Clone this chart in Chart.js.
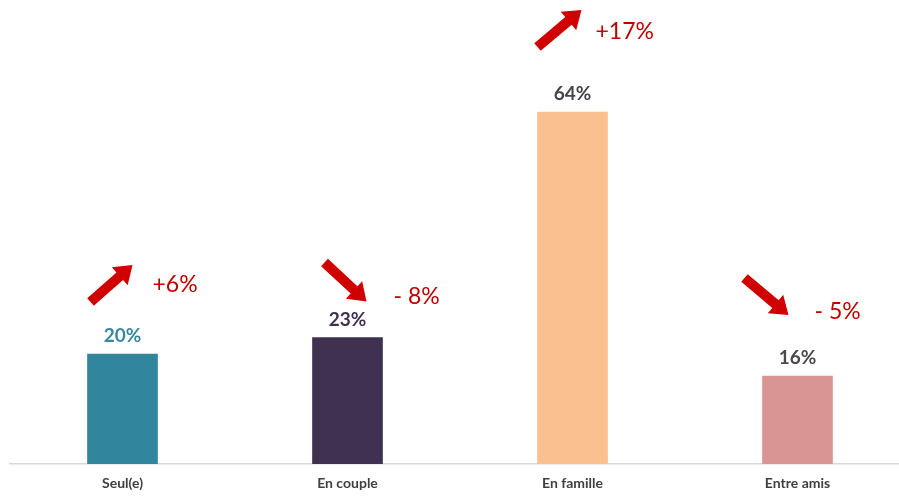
<!DOCTYPE html>
<html>
<head>
<meta charset="utf-8">
<script src="https://cdn.jsdelivr.net/npm/chart.js@4.4.1/dist/chart.umd.min.js"></script>
<style>
  html, body { margin: 0; padding: 0; background: #ffffff; overflow: hidden; }
  #wrap { width: 899px; height: 497px; overflow: hidden; }
</style>
</head>
<body>
<div id="wrap"><canvas id="graphique" width="920" height="497"></canvas></div>
<script>
// --- Données ---
const categories = ['Seul(e)', 'En couple', 'En famille', 'Entre amis'];
const parts = [20, 23, 64, 16];
const evolutions = ['+6%', '- 8%', '+17%', '- 5%'];

const couleursBarres = ['#31859C', '#403151', '#FAC090', '#D99594'];
const couleursValeurs = ['#3A87A0', '#403151', '#464646', '#4A4A4A'];

// Décalages (px) des flèches et des textes par rapport au haut de chaque barre
const decalages = [
    { queue: [-32, -52], pointe: [10, -89], texte: [30, -69] },
    { queue: [-23, -75], pointe: [19, -36], texte: [46, -41] },
    { queue: [-35, -65], pointe: [9, -102], texte: [23, -80] },
    { queue: [-53, -98], pointe: [-9, -61], texte: [17, -64] }
];

function dessinerFleche(ctx, x1, y1, x2, y2) {
    const dx = x2 - x1, dy = y2 - y1;
    const len = Math.hypot(dx, dy);
    const ux = dx / len, uy = dy / len;
    const px = -uy, py = ux;
    const demiTige = 5, demiTete = 12, longTete = 17;
    const bx = x2 - ux * longTete, by = y2 - uy * longTete;
    ctx.beginPath();
    ctx.moveTo(x1 + px * demiTige, y1 + py * demiTige);
    ctx.lineTo(bx + px * demiTige, by + py * demiTige);
    ctx.lineTo(bx + px * demiTete, by + py * demiTete);
    ctx.lineTo(x2, y2);
    ctx.lineTo(bx - px * demiTete, by - py * demiTete);
    ctx.lineTo(bx - px * demiTige, by - py * demiTige);
    ctx.lineTo(x1 - px * demiTige, y1 - py * demiTige);
    ctx.closePath();
    ctx.fillStyle = '#D00000';
    ctx.fill();
}

const pluginAnnotations = {
    id: 'annotations',
    afterDatasetsDraw(chart) {
        const ctx = chart.ctx;
        const meta = chart.getDatasetMeta(0);
        ctx.save();
        meta.data.forEach((barre, i) => {
            const cx = barre.x, haut = barre.y;
            // valeur au-dessus de la barre
            ctx.font = 'bold 19px Lato';
            ctx.fillStyle = couleursValeurs[i];
            ctx.textAlign = 'center';
            ctx.textBaseline = 'middle';
            ctx.fillText(parts[i] + '%', cx, haut - 18);

            // flèche et évolution
            const d = decalages[i];
            dessinerFleche(ctx, cx + d.queue[0], haut + d.queue[1], cx + d.pointe[0], haut + d.pointe[1]);
            ctx.font = '23px Lato';
            ctx.fillStyle = '#C00000';
            ctx.textAlign = 'left';
            ctx.fillText(evolutions[i], cx + d.texte[0], haut + d.texte[1]);
        });
        ctx.restore();
    }
};

const ctxGraphique = document.getElementById('graphique').getContext('2d');
new Chart(ctxGraphique, {
    type: 'bar',
    data: {
        labels: categories,
        datasets: [{
            data: parts,
            backgroundColor: couleursBarres,
            barThickness: 70
        }]
    },
    options: {
        responsive: false,
        animation: false,
        layout: { padding: { left: 10, right: 10, top: 24, bottom: 0 } },
        plugins: { legend: { display: false }, tooltip: { enabled: false } },
        scales: {
            x: {
                grid: { display: false, drawTicks: false },
                border: { display: true, color: '#D9D9D9', width: 1.5 },
                ticks: {
                    color: '#404040',
                    padding: 11,
                    font: { family: 'Lato', size: 14, weight: 'bold' }
                },
                afterFit(scale) { scale.height = 33; }
            },
            y: {
                display: false,
                min: 0,
                max: 80
            }
        }
    },
    plugins: [pluginAnnotations]
});
</script>
</body>
</html>
